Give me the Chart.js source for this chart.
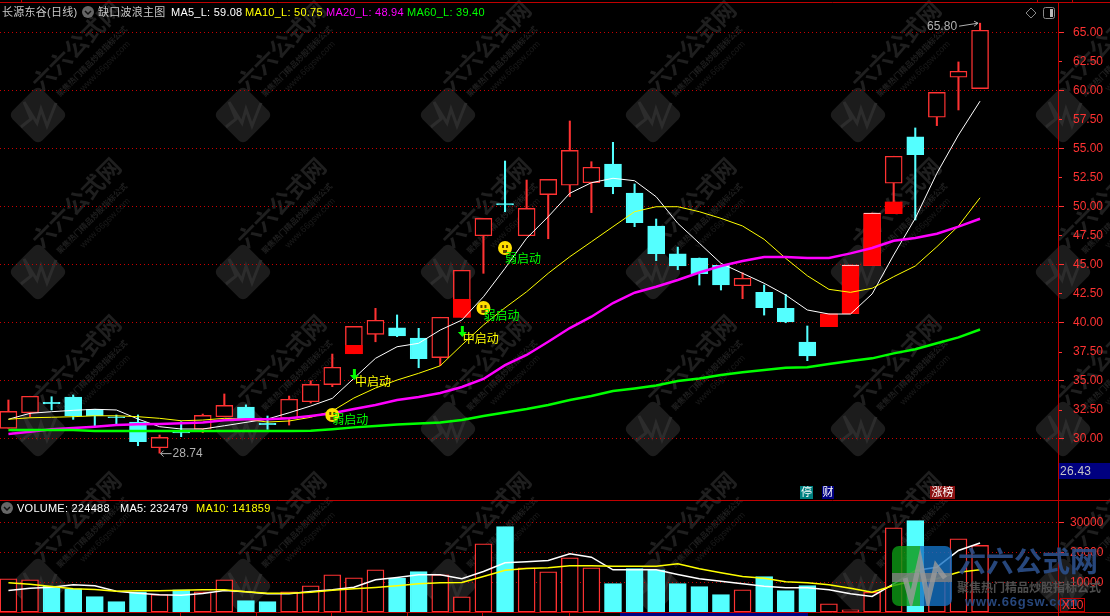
<!DOCTYPE html>
<html>
<head>
<meta charset="utf-8">
<title>长源东谷(日线)</title>
<script src="https://cdn.jsdelivr.net/npm/chart.js@4"></script>
<style>
  html, body { margin: 0; padding: 0; background: #000; width: 1110px; height: 616px; overflow: hidden; }
  #wrap { position: relative; width: 1110px; height: 616px; }
  #kline { position: absolute; left: 0; top: 0; }
  .t { position: absolute; font: 11px "Liberation Sans", "Noto Sans CJK SC", sans-serif; letter-spacing: 0.25px; line-height: 14px; white-space: pre; color: #c8c8c8; }
  .tag { color: #fff; height: 13px; line-height: 13px; text-align: center; letter-spacing: 0; }
</style>
</head>
<body>
<div id="wrap">
  <canvas id="kline" width="1110" height="616"></canvas>
  <span class="t" style="left:2px;top:5px">长源东谷(日线)</span>
  <span class="t" style="left:98px;top:5px">缺口波浪主图</span>
  <span class="t" style="left:171px;top:5px;color:#fff">MA5_L: 59.08</span>
  <span class="t" style="left:245px;top:5px;color:#ff0">MA10_L: 50.75</span>
  <span class="t" style="left:326px;top:5px;color:#f0f">MA20_L: 48.94</span>
  <span class="t" style="left:407px;top:5px;color:#0f0">MA60_L: 39.40</span>
  <span class="t" style="left:17px;top:501px;color:#fff">VOLUME: 224488</span>
  <span class="t" style="left:120px;top:501px;color:#fff">MA5: 232479</span>
  <span class="t" style="left:196px;top:501px;color:#ff0">MA10: 141859</span>
  <span class="t tag" style="left:800px;top:486px;width:13px;background:#008080">停</span>
  <span class="t tag" style="left:822px;top:486px;width:12px;background:#000080">财</span>
  <span class="t tag" style="left:930px;top:486px;width:25px;background:#8b1010">涨榜</span>
  <span class="t" style="left:1059px;top:463px;width:50px;height:16px;line-height:16px;padding-left:1px;background:#000080;font-size:12px">26.43</span>
</div>
<script>
// 日K数据
const opens = [30.88,32.22,33.12,33.58,32.52,31.87,31.42,29.2,30.58,30.8,31.88,32.72,31.3,31.74,33.17,34.64,37.31,38.98,39.53,38.66,36.97,40.45,47.48,50.25,47.48,51.02,51.83,52.05,53.66,51.16,48.32,45.91,45.56,44.93,43.17,42.6,41.22,38.32,39.64,40.76,44.9,52,56,57.69,61.14,60.16];
const closes = [32.34,33.64,33,31.97,31.97,31.8,29.72,30.1,30.48,32,32.86,31.68,31.2,33.38,34.67,36.14,39.67,40.19,38.84,36.88,40.45,44.5,48.98,50.13,49.84,52.34,54.84,53.38,51.71,48.6,45.93,44.87,44.21,43.23,43.81,41.28,40.04,37.13,40.73,44.96,49.44,54.33,54.47,59.84,61.66,65.19];
const highs = [33.32,33.64,33.6,33.75,32.52,32.03,32.03,30.3,31.45,32.11,33.84,32.9,31.94,33.66,34.98,37.28,39.67,41.22,40.65,39.5,40.45,44.5,48.98,53.92,52.28,52.34,57.37,53.86,55.53,51.94,48.92,46.5,45.56,44.93,44.29,43.23,42.43,39.7,40.73,44.96,49.44,54.33,56.77,59.84,62.46,65.8];
const lows = [30.88,31.88,32.46,31.65,31.02,31.25,29.38,28.74,30.16,30.5,31.88,31.68,30.79,31.16,33.06,34.47,37.31,38.34,38.78,36.1,36.28,40.45,44.24,49.55,47.48,47.22,50.84,49.47,51.1,48.26,45.33,44.55,43.23,42.8,42.05,40.64,39.98,36.71,39.64,40.76,44.9,50.39,48.84,56.97,58.32,60.16];

// 均线
const ma5 = [31.66,32.17,32.31,32.43,32.52,32.46,31.68,31.02,30.82,30.82,31.1,31.39,31.68,32.22,32.8,33.46,35.19,36.91,37.91,38.21,39.35,40.21,42.22,44.67,47.26,49.12,51.14,52.05,52.43,52.22,50.84,48.55,46.83,45.1,44.24,43.38,42.37,41.08,40.73,40.73,42.46,45.82,48.98,52.86,56.16,59.08];
const ma10 = [31.66,31.79,31.83,31.88,31.96,31.96,31.88,31.74,31.53,31.59,31.74,31.66,31.42,31.51,31.83,32.37,33.49,34.35,35.04,35.62,36.27,38.06,39.78,41.27,42.65,44.24,45.67,46.96,48.26,49.55,49.98,49.98,49.55,48.98,48.32,47.17,45.53,44.03,42.86,42.6,42.95,43.95,44.87,46.53,48.32,50.75];
const ma20 = [30.39,30.58,30.79,30.9,31.02,31.16,31.22,31.25,31.31,31.39,31.57,31.66,31.66,31.74,31.94,32.17,32.54,32.89,33.32,33.58,33.92,34.44,35.13,36.33,37.2,38.34,39.52,40.5,41.68,42.57,43.08,43.66,44.31,44.87,45.3,45.64,45.64,45.56,45.56,45.96,46.42,47.05,47.28,47.65,48.26,48.94];
const ma60 = [30.73,30.73,30.73,30.73,30.64,30.64,30.64,30.64,30.64,30.64,30.64,30.64,30.64,30.64,30.66,30.79,30.96,31.08,31.21,31.29,31.38,31.59,31.94,32.24,32.54,32.89,33.32,33.66,34.09,34.31,34.57,34.96,35.17,35.47,35.71,35.9,36.1,36.14,36.42,36.68,36.91,37.34,37.69,38.21,38.72,39.4];

// 成交量（×10）
const volumes = [11178,10842,8687,7811,5219,3535,6801,5892,7475,6801,10842,3872,3535,6801,8822,12525,11515,14209,11380,13636,12525,5118,22963,28788,14882,13535,18249,14882,9596,14646,14209,9596,8586,5892,7475,11953,7239,8922,2761,741,6667,28350,30808,10606,24646,22449];
const volMa5 = [7239,8013,8350,9158,8822,7003,6330,5791,5657,6229,7239,6801,6128,6128,6902,7475,8350,10842,11616,12525,12525,11178,13636,16566,16902,17340,19596,18451,14209,14209,14209,12626,11178,10370,9495,8687,8148,8148,7475,6128,5219,9495,13973,15084,20707,23248];
const volMa10 = [9832,9360,8586,7811,7576,7003,7138,7138,7340,7475,7475,6801,6330,6330,6667,7340,7811,8249,8822,9495,9832,9933,11953,14074,14646,14882,15556,15556,15421,15421,15421,16229,14545,13199,11953,11380,10168,9832,9158,8013,6667,8923,10606,11178,13401,14186];

// 缺口（实心红块）
const gapIdx = [16,21,38,39,40,41];
const gapLows = [37.31,40.45,39.64,40.76,44.9,49.38];
const gapHighs = [38.03,42,40.73,44.96,49.44,50.39];
const gapCapped = [39,40];

// 启动信号
const weakIdx = [15,22,23];
const weakPrices = [32.03,41.25,46.42];
const weakLabelPrices = [31.68,40.65,45.56];
const midIdx = [16,21];
const midPrices = [35.04,38.75];

// 刻度
const priceTicks = [30,32.5,35,37.5,40,42.5,45,47.5,50,52.5,55,57.5,60,62.5,65];
const volTicks = [10000,20000,30000];

const RED = '#ff3232', CYAN = '#54ffff', LINE_RED = '#c00000', GRID_RED = '#c80000';
const CJK = '"Noto Sans CJK SC", sans-serif';
const LATIN = '"Liberation Sans", sans-serif';

const isUp = i => closes[i] >= opens[i];

// 水印一个单元
function drawMark(ctx, cx, cy) {
    ctx.save();
    ctx.translate(cx, cy);
    ctx.rotate(-Math.PI / 4);
    ctx.fillStyle = '#1c1c1c';
    ctx.beginPath();
    ctx.roundRect(-21, -21, 42, 42, 6);
    ctx.fill();
    ctx.restore();

    // 脉冲线
    ctx.save();
    ctx.translate(cx, cy);
    ctx.strokeStyle = '#2c2c2c';
    ctx.lineWidth = 3;
    ctx.beginPath();
    ctx.moveTo(-17, 12);
    ctx.lineTo(-7, 4);
    ctx.lineTo(-14, -13);
    ctx.lineTo(-1, 8);
    ctx.lineTo(3, -6);
    ctx.lineTo(9, 11);
    ctx.lineTo(18, -12);
    ctx.stroke();
    ctx.restore();

    ctx.save();
    ctx.translate(cx, cy);
    ctx.rotate(-Math.PI / 4);
    ctx.textAlign = 'center';
    ctx.textBaseline = 'middle';
    ctx.fillStyle = '#1f1f1f';
    ctx.font = 'bold 23px ' + CJK;
    ctx.fillText('六六公式网', 76, -22);
    ctx.font = 'bold 8px ' + CJK;
    ctx.fillText('聚焦热门精品炒股指标公式', 76, 0);
    ctx.fillStyle = '#1a1a1a';
    ctx.font = '9px ' + LATIN;
    ctx.fillText('www.66gsw.com', 82, 13);
    ctx.restore();
}

const watermarkPlugin = {
    id: 'watermark',
    beforeDraw(chart) {
        const ctx = chart.ctx;
        ctx.save();
        ctx.beginPath();
        ctx.rect(0, 0, 1110, 616);
        ctx.clip();
        for (let row = 0; row < 5; row++) {
            for (let col = 0; col < 6; col++) {
                drawMark(ctx, 38 + col * 205, -42 + row * 157);
            }
        }
        ctx.restore();
    }
};

// 边框、小图标和右下角Logo
function drawFrame(chart) {
    const ctx = chart.ctx;
    ctx.save();
    ctx.strokeStyle = LINE_RED;
    ctx.lineWidth = 1;
    ctx.beginPath();
    ctx.moveTo(0, 2.5); ctx.lineTo(1110, 2.5);
    ctx.moveTo(0, 500.5); ctx.lineTo(1110, 500.5);
    ctx.moveTo(0, 612.5); ctx.lineTo(1110, 612.5);
    ctx.moveTo(1058.5, 2); ctx.lineTo(1058.5, 616);
    [21, 1037, 1072].forEach(x => { ctx.moveTo(x + 0.5, 0); ctx.lineTo(x + 0.5, 2); });
    [180, 256, 331, 407, 482, 569].forEach(x => { ctx.moveTo(x + 0.5, 613); ctx.lineTo(x + 0.5, 616); });
    ctx.stroke();

    // 2.5档的短刻度
    const yScale = chart.scales.y;
    ctx.strokeStyle = RED;
    ctx.beginPath();
    priceTicks.filter(v => v % 5 !== 0).forEach(v => {
        const py = Math.round(yScale.getPixelForValue(v)) + 0.5;
        ctx.moveTo(1059, py); ctx.lineTo(1062, py);
    });
    ctx.stroke();

    ctx.fillStyle = '#000080';
    ctx.fillRect(620, 613, 188, 3);

    // 下拉按钮
    [[88, 12], [7, 508]].forEach(([x, y]) => {
        ctx.fillStyle = '#666';
        ctx.beginPath();
        ctx.arc(x, y, 6, 0, Math.PI * 2);
        ctx.fill();
        ctx.strokeStyle = '#111';
        ctx.lineWidth = 1.5;
        ctx.beginPath();
        ctx.moveTo(x - 3, y - 1); ctx.lineTo(x, y + 2); ctx.lineTo(x + 3, y - 1);
        ctx.stroke();
    });

    // 右上角图标
    ctx.strokeStyle = '#888';
    ctx.lineWidth = 1;
    ctx.beginPath();
    ctx.moveTo(1031, 8); ctx.lineTo(1036, 13); ctx.lineTo(1031, 18); ctx.lineTo(1026, 13);
    ctx.closePath();
    ctx.stroke();
    ctx.beginPath();
    ctx.roundRect(1043.5, 7.5, 11, 11, 2);
    ctx.stroke();
    ctx.fillStyle = '#bbb';
    ctx.fillRect(1050, 9, 3, 8);
    ctx.restore();
}

function drawLogo(chart) {
    const ctx = chart.ctx;
    ctx.save();
    ctx.globalAlpha = 0.8;
    ctx.beginPath();
    ctx.roundRect(892, 546, 60, 60, 7);
    ctx.clip();
    ctx.fillStyle = '#0c9a14';
    ctx.fillRect(892, 546, 28, 60);
    ctx.fillStyle = '#1472c4';
    ctx.fillRect(920, 546, 32, 60);
    ctx.fillStyle = '#808080';
    ctx.fillRect(892, 573, 60, 9);
    ctx.strokeStyle = '#9a9a9a';
    ctx.lineWidth = 5;
    ctx.beginPath();
    ctx.moveTo(905, 578); ctx.lineTo(911, 600); ctx.lineTo(920, 560); ctx.lineTo(928, 600); ctx.lineTo(936, 566); ctx.lineTo(945, 578);
    ctx.stroke();
    ctx.restore();

    ctx.save();
    ctx.textBaseline = 'middle';
    ctx.globalAlpha = 0.9;
    ctx.fillStyle = '#2b4f8a';
    ctx.font = 'bold 28px ' + CJK;
    ctx.fillText('六六公式网', 958, 561);
    ctx.fillStyle = '#555';
    ctx.font = 'bold 12px ' + CJK;
    ctx.fillText('聚焦热门精品炒股指标公式', 957, 587);
    ctx.fillStyle = '#2b4f8a';
    ctx.font = 'bold 13px ' + LATIN;
    ctx.letterSpacing = '0.8px';
    ctx.fillText('www.66gsw.com', 965, 602);
    ctx.restore();

    // X10框
    ctx.save();
    ctx.strokeStyle = LINE_RED;
    ctx.strokeRect(1060.5, 598.5, 24, 13);
    ctx.fillStyle = RED;
    ctx.font = '12px ' + LATIN;
    ctx.textBaseline = 'middle';
    ctx.fillText('X10', 1062, 605.5);
    ctx.restore();
}

// 信号和最高最低价标记
const signalPlugin = {
    id: 'signals',
    afterDatasetsDraw(chart) {
        const ctx = chart.ctx;
        const x = chart.scales.x, y = chart.scales.y;
        ctx.save();
        ctx.textBaseline = 'middle';

        weakIdx.forEach((idx, n) => {
            const px = x.getPixelForValue(idx), py = y.getPixelForValue(weakPrices[n]);
            ctx.fillStyle = '#ffe000';
            ctx.beginPath();
            ctx.arc(px, py, 7, 0, Math.PI * 2);
            ctx.fill();
            ctx.fillStyle = '#5a3a00';
            ctx.fillRect(px - 3, py - 3, 2, 3);
            ctx.fillRect(px + 1, py - 3, 2, 3);
            ctx.fillRect(px - 2, py + 2, 4, 3);
            ctx.fillStyle = '#00ff00';
            ctx.font = '12px ' + CJK;
            ctx.fillText('弱启动', px, y.getPixelForValue(weakLabelPrices[n]));
        });

        midIdx.forEach((idx, n) => {
            const px = x.getPixelForValue(idx), py = y.getPixelForValue(midPrices[n]);
            ctx.fillStyle = '#00ff00';
            ctx.fillRect(px - 1, py - 11, 3, 7);
            ctx.beginPath();
            ctx.moveTo(px - 4, py - 5); ctx.lineTo(px + 5, py - 5); ctx.lineTo(px + 0.5, py);
            ctx.closePath();
            ctx.fill();
            ctx.fillStyle = '#ffff00';
            ctx.font = '12px ' + CJK;
            ctx.fillText('中启动', px + 1, py + 1);
        });

        // 最低价
        const lowI = lows.indexOf(Math.min(...lows));
        const lx = x.getPixelForValue(lowI), ly = y.getPixelForValue(lows[lowI]);
        ctx.strokeStyle = '#b0b0b0';
        ctx.fillStyle = '#b0b0b0';
        ctx.font = '12px ' + LATIN;
        ctx.beginPath();
        ctx.moveTo(lx + 1, ly + 0.5); ctx.lineTo(lx + 12, ly + 0.5);
        ctx.moveTo(lx + 4, ly - 2.5); ctx.lineTo(lx + 1, ly + 0.5); ctx.lineTo(lx + 4, ly + 3.5);
        ctx.stroke();
        ctx.fillText(lows[lowI].toFixed(2), lx + 13, ly + 1);

        // 最高价
        const highI = highs.indexOf(Math.max(...highs));
        const hx = x.getPixelForValue(highI), hy = y.getPixelForValue(highs[highI]);
        ctx.textAlign = 'right';
        ctx.fillText(highs[highI].toFixed(2), hx - 23, hy + 4);
        ctx.beginPath();
        ctx.moveTo(hx - 21, hy + 3); ctx.lineTo(hx - 2, hy);
        ctx.moveTo(hx - 6, hy - 2); ctx.lineTo(hx - 2, hy); ctx.lineTo(hx - 6, hy + 3);
        ctx.stroke();
        ctx.restore();
    },
    afterDraw(chart) {
        drawFrame(chart);
        drawLogo(chart);
    }
};

const xy = arr => arr.map((v, i) => ({ x: i, y: v }));
const maLine = (label, data, color, width, yAxisID) => ({
    type: 'line', label, data: xy(data), yAxisID,
    borderColor: color, borderWidth: width, pointRadius: 0, tension: 0, order: 1
});

// 固定坐标轴宽度，取消标签自动留白
function fixAxisBox(scale) {
    scale.width = 52;
    scale.paddingTop = 0;
    scale.paddingBottom = 0;
}

new Chart(document.getElementById('kline'), {
    data: {
        datasets: [
            maLine('MA60', ma60, '#00ff00', 2.5, 'y'),
            maLine('MA20', ma20, '#ff00ff', 2.5, 'y'),
            maLine('MA10', ma10, '#ffff00', 1, 'y'),
            maLine('MA5', ma5, '#ffffff', 1, 'y'),
            {
                type: 'bar', label: 'gap', yAxisID: 'y', order: 3, grouped: false, barThickness: 17,
                data: gapIdx.map((idx, n) => ({ x: idx, y: [gapLows[n], gapHighs[n]] })),
                backgroundColor: '#ff0000',
                borderColor: '#ffffff',
                borderSkipped: false,
                borderWidth: c => gapCapped.includes(gapIdx[c.dataIndex]) ? { top: 1, left: 0, right: 0, bottom: 0 } : 0
            },
            {
                type: 'bar', label: 'body', yAxisID: 'y', order: 4, grouped: false, barThickness: 17,
                data: opens.map((o, i) => ({ x: i, y: [Math.min(o, closes[i]), Math.max(o, closes[i])] })),
                backgroundColor: c => isUp(c.dataIndex) ? '#000' : CYAN,
                borderColor: c => isUp(c.dataIndex) ? RED : CYAN,
                borderSkipped: false,
                borderWidth: 1.4
            },
            {
                type: 'bar', label: 'wick', yAxisID: 'y', order: 5, grouped: false, barThickness: 1.4,
                data: highs.map((h, i) => ({ x: i, y: [lows[i], h] })),
                backgroundColor: c => isUp(c.dataIndex) ? RED : CYAN,
                borderWidth: 0
            },
            maLine('VOL10', volMa10, '#ffff00', 1.5, 'yVol'),
            maLine('VOL5', volMa5, '#ffffff', 1.5, 'yVol'),
            {
                type: 'bar', label: 'volume', yAxisID: 'yVol', order: 4, grouped: false, barThickness: 17,
                data: xy(volumes),
                backgroundColor: c => isUp(c.dataIndex) ? '#000' : CYAN,
                borderColor: c => isUp(c.dataIndex) ? RED : CYAN,
                borderSkipped: false,
                borderWidth: 1.4
            }
        ]
    },
    options: {
        responsive: false,
        animation: false,
        layout: { autoPadding: false, padding: { top: 3, bottom: 4, left: 0, right: 0 } },
        plugins: { legend: { display: false }, tooltip: { enabled: false } },
        events: [],
        scales: {
            x: { type: 'linear', min: -0.39, max: 48.61, offset: false, display: false },
            y: {
                position: 'right', stack: 'panels', stackWeight: 497,
                min: 24.7, max: 67.54,
                afterBuildTicks: s => { s.ticks = priceTicks.map(value => ({ value })); },
                afterFit: fixAxisBox,
                border: { display: false, dash: [1, 3] },
                grid: {
                    color: c => c.tick && c.tick.value % 5 === 0 ? GRID_RED : 'rgba(0,0,0,0)',
                    tickColor: c => c.tick && c.tick.value % 5 === 0 ? RED : 'rgba(0,0,0,0)',
                    tickBorderDash: [],
                    tickLength: 6
                },
                ticks: {
                    color: RED, padding: 9, autoSkip: false,
                    font: { family: 'Liberation Sans', size: 12 },
                    callback: v => v.toFixed(2)
                }
            },
            yVol: {
                position: 'right', stack: 'panels', stackWeight: 112,
                min: 0, max: 37710,
                afterBuildTicks: s => { s.ticks = volTicks.map(value => ({ value })); },
                afterFit: fixAxisBox,
                border: { display: false, dash: [1, 3] },
                grid: { color: GRID_RED, tickColor: RED, tickBorderDash: [], tickLength: 6 },
                ticks: {
                    color: RED, padding: 6, autoSkip: false,
                    font: { family: 'Liberation Sans', size: 12 },
                    callback: v => String(v)
                }
            }
        }
    },
    plugins: [watermarkPlugin, signalPlugin]
});
</script>
</body>
</html>
